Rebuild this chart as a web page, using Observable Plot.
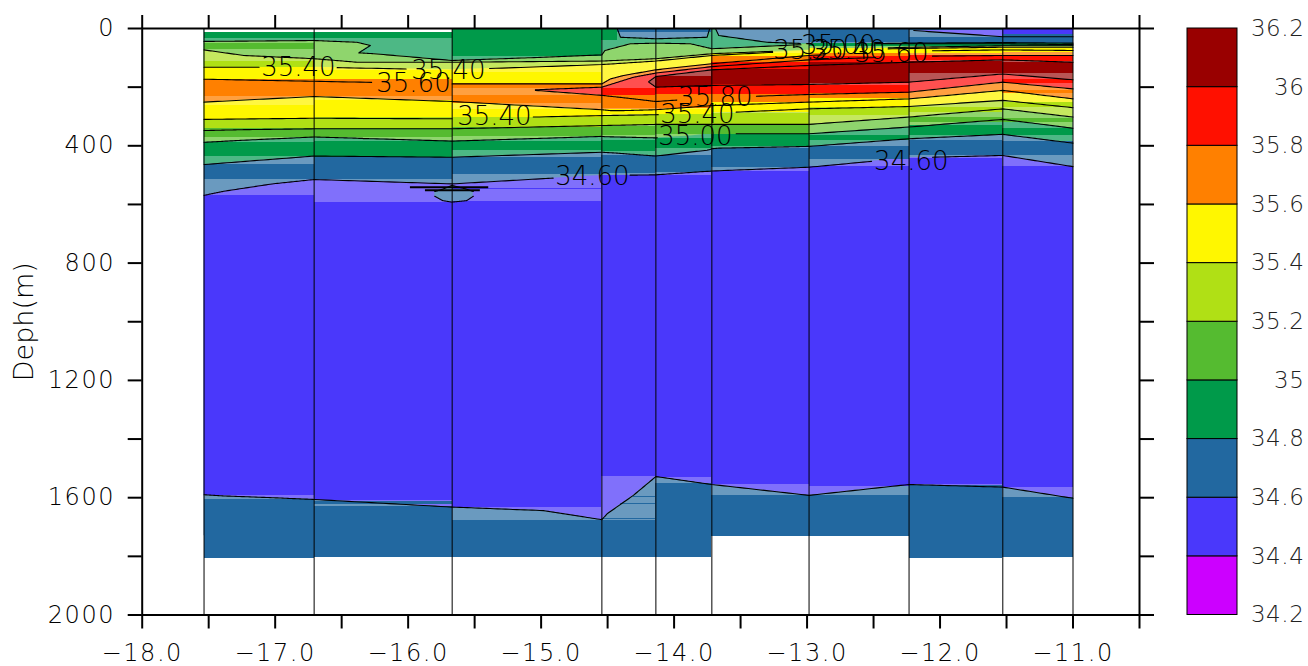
<!DOCTYPE html>
<html>
<head>
<meta charset="utf-8">
<script src="https://cdn.jsdelivr.net/npm/d3@7"></script>
<script src="https://cdn.jsdelivr.net/npm/@observablehq/plot@0.6"></script>
<style>
html,body{margin:0;padding:0;background:#fff;width:1308px;height:666px;overflow:hidden}
#chart{position:absolute;left:0;top:0}
#bar{position:absolute;left:1170px;top:0}
g[aria-label$="tick label"]{letter-spacing:1.6px}
#bar g[aria-label="text"]{letter-spacing:0.6px}
</style>
</head>
<body>
<div id="chart"></div>
<div id="bar"></div>
<script>
// station longitudes
const stationLon = [-17.535,-16.707,-15.669,-14.543,-14.137,-13.716,-12.985,-12.233,-11.528,-11.0];

// colour classes (lower bound of each salinity class) and their pale versions
const classNames = ["34.2","34.4","34.6","34.8","35","35.2","35.4","35.6","35.8","36"];
const classColors = ["#cc00ff","#4a38fb","#2268a0","#009a4a","#55bb30","#b0e015","#fff700","#ff8000","#ff1000","#990000"];
const paleNames = ["34.4t","34.6t","34.8t","35t","35.2t","35.4t","35.6t","35.8t","36t"];
const paleColors = ["#8070fb","#6a9abf","#4db885","#8fd56d","#c5e85f","#fff740","#ffa040","#ff5050","#b85555"];
const barEdges = [34.2,34.4,34.6,34.8,35,35.2,35.4,35.6,35.8,36,36.2];
const barLabels = ["34.2","34.4","34.6","34.8","35","35.2","35.4","35.6","35.8","36","36.2"];

// isohaline limbs: depth of upper and lower limb (m) along lon
const lon346 = [-17.535,-17.387,-17.023,-16.707,-15.669,-14.983,-14.543,-14.504,-14.306,-14.137,-13.716,-12.985,-12.233,-11.528,-11.0];
const top346 = [569,555,530,515,530,512,501,501,500,499,486,473,441,433,471];
const bot346 = [1590,1594,1600,1606,1632,1644,1675,1655,1592,1528,1555,1592,1555,1564,1602];

const eyeLon = [-15.80,-15.74,-15.67,-15.56,-15.51];
const eyeTop = [556,548,535,548,556];
const eyeBot = [572,587,592,587,572];

const sliverLon = [-12.198,-11.526,-11.0];
const sliverTop = [0,0,0];
const sliverBot = [7,28,28];

const lon348 = [-17.535,-16.707,-15.669,-14.543,-14.428,-14.403,-14.137,-13.752,-13.732,-13.716,-13.689,-13.664,-13.301,-12.985,-12.233,-11.528,-11.0];
const top348 = [0,0,0,0,0,30,35,30,0,0,0,24,47,52,52,52,55];
const bot348 = [464,435,439,422,425,426,435,415,413,410,409,408,405,402,376,361,391];

const lon350 = [-17.535,-17.236,-16.707,-16.384,-16.284,-16.371,-16.259,-15.669,-15.1,-14.543,-14.52,-14.328,-14.137,-13.877,-13.716,-12.985,-12.233,-11.528,-11.0];
const top350 = [44,43,41,47,58,83,86,109,100,90,75,52,50,52,69,54,50,48,50];
const bot350 = [388,381,370,374,376,375,376,384,376,368,369,371,373,367,359,359,336,310,340];

const lon352 = [-17.535,-17.236,-16.707,-16.384,-15.669,-14.543,-14.137,-13.716,-12.985,-12.233,-11.528,-11.0];
const top352 = [73,92,103,115,115,111,103,86,73,64,59,59];
const bot352 = [348,345,342,342,342,331,327,327,327,302,274,302];

const lon354 = [-17.535,-16.707,-15.669,-14.543,-14.137,-13.716,-12.985,-12.233,-11.528,-11.0];
const top354 = [132,132,141,123,111,92,75,68,64,64];
const bot354 = [310,306,308,297,294,289,274,266,245,270];

const lon356 = [-17.535,-16.707,-15.669,-14.543,-14.479,-14.378,-14.137,-13.716,-12.985,-12.233,-11.528,-11.0];
const top356 = [173,180,189,189,172,160,141,120,92,77,73,75];
const bot356 = [251,232,249,277,280,280,277,263,251,240,211,240];

const lon358 = [-15.043,-14.543,-14.303,-14.137,-13.716,-12.985,-12.233,-11.528,-11.0];
const top358 = [209,200,166,152,130,107,95,92,92];
const bot358 = [211,228,240,249,236,225,217,183,206];

const lon360 = [-14.19,-14.137,-13.716,-12.985,-12.233,-11.528,-11.0];
const top360 = [181,164,141,126,115,107,115];
const bot360 = [183,200,194,191,183,155,175];

// solid rows per section: [from depth, to depth, class]
const segA = [[0,14,"ground"],[14,33,"34.8"],[50,72,"35"],[111,132,"35.2"],[132,175,"35.4"],[175,232,"35.6"],[263,310,"35.4"],[310,342,"35.2"],[342,370,"35"],[388,436,"34.8"],[464,515,"34.6"],[569,1592,"34.4"],[1607,1806,"34.6"]];
const segB = [[0,14,"ground"],[14,33,"34.8"],[143,175,"35.4"],[175,232,"35.6"],[245,304,"35.4"],[304,342,"35.2"],[342,370,"35"],[384,439,"34.8"],[439,515,"34.6"],[592,1608,"34.4"],[1612,1623,"34.6"],[1630,1803,"34.6"]];
const segC = [[0,95,"34.8"],[149,189,"35.4"],[189,206,"35.6"],[228,255,"35.6"],[277,302,"35.4"],[302,336,"35.2"],[336,368,"35"],[384,416,"34.8"],[439,498,"34.6"],[547,550,"34.4"],[590,1632,"34.4"],[1678,1803,"34.6"]];
const segD = [[206,228,"35.8"],[228,274,"35.6"],[277,293,"35.4"],[297,331,"35.2"],[334,365,"35"],[382,418,"34.8"],[433,496,"34.6"],[501,1528,"34.4"],[1678,1803,"34.6"]];
const segE = [[0,12,"34.6"],[164,200,"36"],[200,225,"35.8"],[225,274,"35.6"],[277,293,"35.4"],[294,327,"35.2"],[331,361,"35"],[376,410,"34.8"],[433,490,"34.6"],[501,1532,"34.4"],[1553,1803,"34.6"]];
const segF = [[86,97,"35.4"],[97,115,"35.6"],[115,141,"35.8"],[141,191,"36"],[191,225,"35.8"],[225,251,"35.6"],[251,285,"35.4"],[289,327,"35.2"],[327,361,"35"],[361,402,"34.8"],[410,473,"34.6"],[486,1555,"34.4"],[1592,1732,"34.6"]];
const segG = [[0,47,"34.6"],[52,63,"34.8"],[69,86,"35.4"],[86,97,"35.6"],[97,115,"35.8"],[115,186,"36"],[194,220,"35.8"],[220,240,"35.6"],[240,271,"35.4"],[271,297,"35.2"],[365,382,"34.8"],[402,447,"34.6"],[470,1562,"34.4"],[1592,1732,"34.6"]];
const segH = [[0,7,"34.6"],[29,52,"34.6"],[52,63,"34.8"],[69,86,"35.4"],[92,109,"35.8"],[111,155,"36"],[270,285,"35.2"],[304,319,"35"],[331,365,"34.8"],[382,433,"34.6"],[444,1555,"34.4"],[1558,1806,"34.6"]];
const segI = [[0,20,"34.4"],[20,52,"34.6"],[52,61,"34.8"],[69,81,"35.4"],[92,111,"35.8"],[115,155,"36"],[175,189,"35.8"],[211,222,"35.6"],[251,270,"35.2"],[308,319,"35"],[342,365,"34.8"],[384,433,"34.6"],[471,1564,"34.4"],[1600,1803,"34.6"]];

// rows that span only part of a section
const partLon1 = [-14.543,-14.428,-14.306,-14.40,-14.543];
const partLon2 = [-14.428,-14.137,-14.137,-14.137,-14.137];
const partTop = [0,0,1597,1620,1672];
const partBot = [41,12,1600,1623,1675];
const partClass = ["34.8","34.6","34.6","34.6","34.6"];

// contour labels
const labelText = ["35.40","35.40","35.60","35.40","34.60","35.80","35.40","35.00","34.60","35.20","35.00","35.40","35.60"];
const labelLon = [-16.825,-15.697,-15.96,-15.351,-14.614,-13.69,-13.825,-13.84,-12.216,-12.975,-12.765,-12.69,-12.366];
const labelDepth = [133,143,187,300,505,235,293,368,453,75,58,75,85];

// dashes beside the small closed contour
const dashLon1 = [-15.983,-15.87];
const dashLon2 = [-15.394,-15.457];
const dashDepth = [541,552];

const seafloorDepth = 1730;

// ---- build
const font = {background:"transparent",fontFamily:"'DejaVu Sans',sans-serif"};
const colorScale = {type:"ordinal",domain:[...classNames,...paleNames,"ground"],range:[...classColors,...paleColors,"#ffffff"]};
const table = (lon,a,b)=>lon.map((x,i)=>({x,a:a[i],b:b[i]}));
const region = (lon,a,b,code)=>Plot.area(table(lon,a,b),{x1:"x",y1:"a",y2:"b",fill:()=>code,curve:"linear"});

// a contour line leaves a gap where its own label sits on it
const underLabel = (x,y)=>labelLon.some((lx,i)=>Math.abs(x-lx)<0.28&&Math.abs(y-labelDepth[i])<14);
const limb = (lon,vals)=>{
  const pts=[];
  lon.forEach((x,i)=>{
    if(i===lon.length-1){pts.push({x,y:vals[i]});return;}
    for(let k=0;k<24;k++){const t=k/24;pts.push({x:x+(lon[i+1]-x)*t,y:vals[i]+(vals[i+1]-vals[i])*t});}
  });
  return Plot.line(pts,{x:"x",y:d=>(d.y>2&&!underLabel(d.x,d.y))?d.y:NaN,stroke:"#000",strokeWidth:1.1,curve:"linear"});
};
const limbs = (lon,a,b)=>[limb(lon,a),limb(lon,b)];

const segs = [segA,segB,segC,segD,segE,segF,segG,segH,segI];
const rows = segs.flatMap((s,i)=>s.map(r=>({x1:stationLon[i],x2:stationLon[i+1],y1:r[0],y2:r[1],code:r[2]})));
const partRows = partLon1.map((x1,i)=>({x1,x2:partLon2[i],y1:partTop[i],y2:partBot[i],code:partClass[i]}));
const labels = labelText.map((t,i)=>({t,x:labelLon[i],y:labelDepth[i]}));
const dashes = dashLon1.map((x1,i)=>({x1,x2:dashLon2[i],y:dashDepth[i]}));

const xTicks = d3.range(-18,-10.4,0.5);
const yTicks = d3.range(0,2001,200);
const xFmt = d=>Number.isInteger(d)?d.toFixed(1).replace("-","\u2212"):"";
const yFmt = d=>d%400===0?String(d):"";

const chart = Plot.plot({
  width:1170,height:666,marginLeft:141.7,marginRight:31,marginTop:28,marginBottom:51.5,
  style:font,
  x:{domain:[-18,-10.5]},
  y:{domain:[0,2000],reverse:true},
  color:colorScale,
  marks:[
    region(stationLon,stationLon.map(()=>0),stationLon.map(()=>seafloorDepth),"34.6t"),
    region(lon346,top346,bot346,"34.4t"),
    region(eyeLon,eyeTop,eyeBot,"34.6t"),
    region(sliverLon,sliverTop,sliverBot,"34.4t"),
    region(lon348,top348,bot348,"34.8t"),
    region(lon350,top350,bot350,"35t"),
    region(lon352,top352,bot352,"35.2t"),
    region(lon354,top354,bot354,"35.4t"),
    region(lon356,top356,bot356,"35.6t"),
    region(lon358,top358,bot358,"35.8t"),
    region(lon360,top360,bot360,"36t"),
    Plot.rect(rows,{x1:"x1",x2:"x2",y1:"y1",y2:"y2",fill:"code",shapeRendering:"crispEdges"}),
    Plot.rect(partRows,{x1:"x1",x2:"x2",y1:"y1",y2:"y2",fill:"code",shapeRendering:"crispEdges"}),
    ...limbs(lon346,top346,bot346),
    ...limbs(lon348,top348,bot348),
    ...limbs(lon350,top350,bot350),
    ...limbs(lon352,top352,bot352),
    ...limbs(lon354,top354,bot354),
    ...limbs(lon356,top356,bot356),
    ...limbs(lon358,top358,bot358),
    ...limbs(lon360,top360,bot360),
    limb(sliverLon,sliverBot),
    ...limbs(eyeLon,eyeTop,eyeBot),
    Plot.ruleY(dashes,{x1:"x1",x2:"x2",y:"y",stroke:"#000",strokeWidth:2}),
    Plot.ruleX(stationLon,{y1:0,y2:2000,stroke:"#000",strokeWidth:1}),
    Plot.text(labels,{x:"x",y:"y",text:"t",fontSize:26,fontWeight:200,fill:"#000"}),
    Plot.frame({stroke:"#000",strokeWidth:2}),
    Plot.axisX({anchor:"bottom",ticks:xTicks,tickFormat:xFmt,tickSize:14,tickPadding:15,strokeWidth:2,fontSize:24,fontWeight:200,label:null,fill:"#000"}),
    Plot.axisX({anchor:"top",ticks:xTicks,tickFormat:null,text:null,tickSize:14,strokeWidth:2,label:null}),
    Plot.axisY({anchor:"left",ticks:yTicks,tickFormat:yFmt,tickSize:14,tickPadding:13,strokeWidth:2,fontSize:24,fontWeight:200,label:null,fill:"#000"}),
    Plot.axisY({anchor:"right",ticks:yTicks,tickFormat:null,text:null,tickSize:14,strokeWidth:2,label:null}),
    Plot.text(["Deph(m)"],{frameAnchor:"left",dx:-118,rotate:-90,textAnchor:"middle",fontSize:27,fontWeight:200,fill:"#000"})
  ]
});
document.getElementById("chart").appendChild(chart);

// colour bar
const barRows = classNames.map((code,i)=>({code,y1:barEdges[i],y2:barEdges[i+1]}));
const barLabelRows = barLabels.map((t,i)=>({t,y:barEdges[i]}));
const bar = Plot.plot({
  width:138,height:666,marginLeft:17,marginRight:71,marginTop:28,marginBottom:51.5,
  style:font,
  x:{domain:[0,1],axis:null},
  y:{domain:[34.2,36.2],axis:null},
  color:colorScale,
  marks:[
    Plot.rect(barRows,{x1:()=>0,x2:()=>1,y1:"y1",y2:"y2",fill:"code",stroke:"#000",strokeWidth:1}),
    Plot.text(barLabelRows,{x:()=>1,y:"y",text:"t",textAnchor:"end",dx:67,fontSize:23,fontWeight:200,fill:"#222"})
  ]
});
document.getElementById("bar").appendChild(bar);
</script>
</body>
</html>
